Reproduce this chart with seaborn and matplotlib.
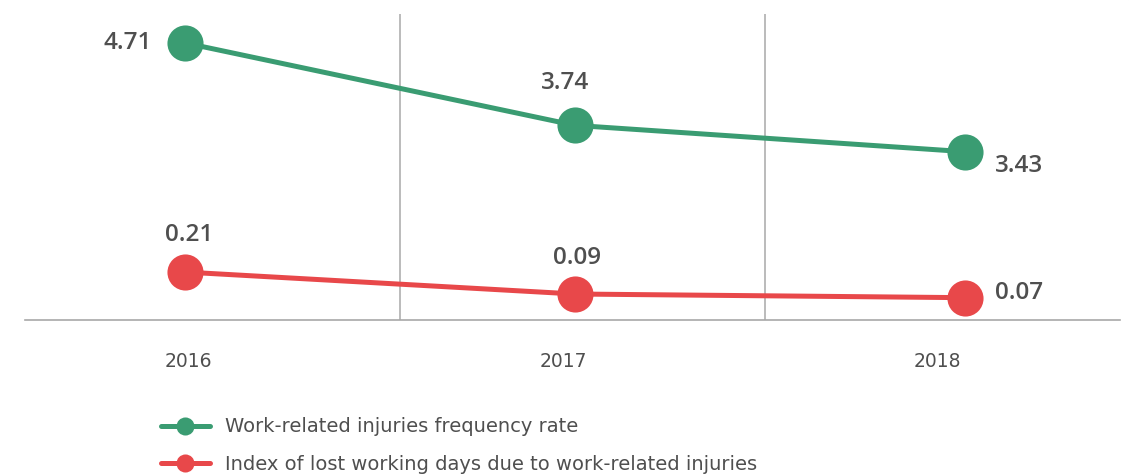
import numpy as np
import pandas as pd
import matplotlib
matplotlib.use("Agg")
import matplotlib.pyplot as plt
from matplotlib.patches import Ellipse
from matplotlib.lines import Line2D
import seaborn as sns

years = ["2016", "2017", "2018"]
freq_rate = [4.71, 3.74, 3.43]
lost_days = [0.21, 0.09, 0.07]
freq_label = "Work-related injuries frequency rate"
lost_label = "Index of lost working days due to work-related injuries"

green = "#3a9c72"
red = "#e8484a"
txt = "#4f4f4f"

sns.set_theme(style="white")
plt.rcParams['font.family'] = ['DejaVu Sans']

df = pd.DataFrame({"pos": np.arange(len(years)), "year": years,
                   "freq": freq_rate, "lost": lost_days})

fig = plt.figure(figsize=(11.29, 4.75), dpi=100)
ax = fig.add_axes([25 / 1129, 1 - 320 / 475, 1095 / 1129, 306 / 475])
ax2 = ax.twinx()

sns.lineplot(data=df, x="pos", y="freq", ax=ax, color=green, lw=3.6,
             marker="o", markersize=26, markeredgewidth=0, zorder=3)
sns.lineplot(data=df, x="pos", y="lost", ax=ax2, color=red, lw=3.6,
             marker="o", markersize=26, markeredgewidth=0, zorder=3)

ax.set_xlim(-0.41, 2.397)
ax.set_ylim(1.45, 5.05)
ax2.set_ylim(-0.052, 1.62)

# separators
for xv in [0.551, 1.487]:
    ax.axvline(xv, color="#a8a8a8", lw=1.1, zorder=1)

for a in (ax, ax2):
    for s in a.spines.values():
        s.set_visible(False)
    a.set_yticks([])
    a.set_ylabel("")
    a.set_xlabel("")
ax.spines["bottom"].set_visible(True)
ax.spines["bottom"].set_color("#a8a8a8")
ax.spines["bottom"].set_linewidth(1.2)

ax.set_xticks([0.008, 0.97, 1.93])
ax.set_xticklabels(years, color=txt, fontsize=13.5)
ax.tick_params(axis="x", length=0, pad=23)

lab_kw = dict(textcoords="offset pixels", fontsize=17.5, fontweight="semibold",
              family="Open Sans", color=txt, va="center")
g_off = [(-33, 0, "right"), (-10, 42, "center"), (30, -14, "left")]
r_off = [(4, 37, "center"), (2, 36, "center"), (30, 5, "left")]
for i in range(len(years)):
    dx, dy, ha = g_off[i]
    ax.annotate(f"{freq_rate[i]:.2f}", (i, freq_rate[i]), xytext=(dx, dy), ha=ha, **lab_kw)
    dx, dy, ha = r_off[i]
    ax2.annotate(f"{lost_days[i]:.2f}", (i, lost_days[i]), xytext=(dx, dy), ha=ha, **lab_kw)

handles = [Line2D([], [], color=green, lw=3.6, marker="o", markersize=13, markeredgewidth=0),
           Line2D([], [], color=red, lw=3.6, marker="o", markersize=13, markeredgewidth=0)]
fig.legend(handles, [freq_label, lost_label], loc="upper left",
           bbox_to_anchor=(143 / 1129, 1 - 400 / 475), frameon=False,
           fontsize=14, labelcolor=txt, handlelength=2.55, handletextpad=0.75,
           labelspacing=0.95)

fig.patches.append(Ellipse((1185 / 1129, 1 - (-40) / 475), 200 / 1129, 95 / 475,
                           transform=fig.transFigure, color="#f7f5df", zorder=0))

fig.savefig("out.png", dpi=100, facecolor="white")
